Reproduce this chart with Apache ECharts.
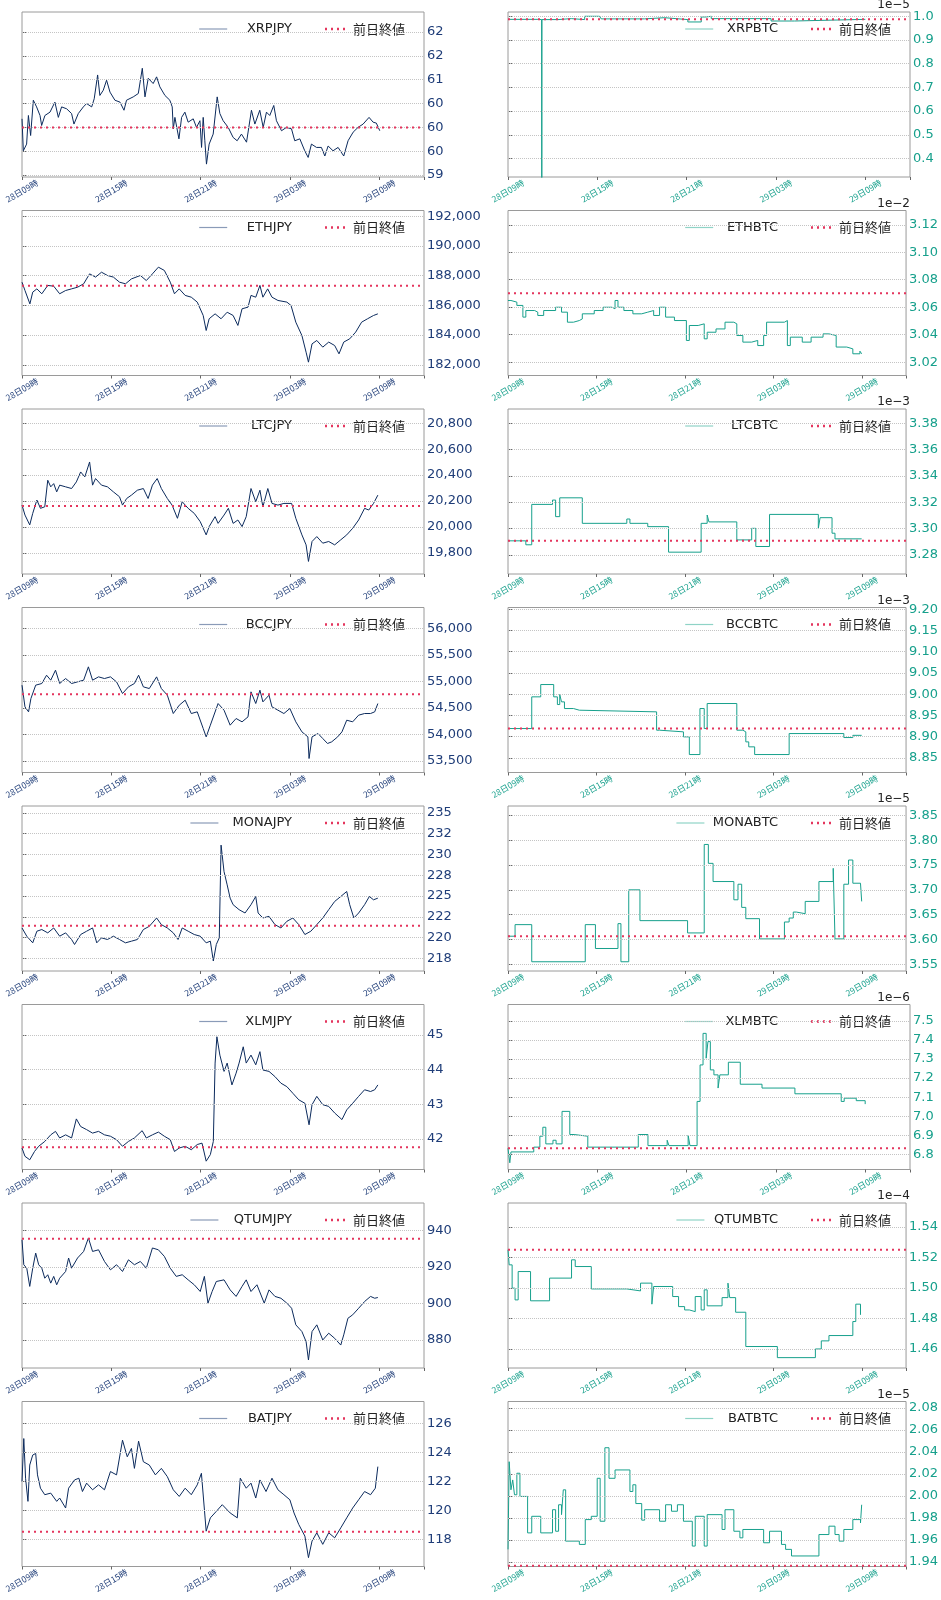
<!DOCTYPE html>
<html><head><meta charset="utf-8">
<script src="https://cdn.jsdelivr.net/npm/echarts@6/dist/echarts.min.js"></script>
<style>html,body{margin:0;padding:0;background:#fff}#c{width:941px;height:1600px}</style>
</head><body><div id="c"></div>
<script>
const timeLabels = ['28日09時','28日15時','28日21時','29日03時','29日09時'];

const XRPJPY = [[0,60.18],[0.09,59.51],[0.31,59.65],[0.43,60.25],[0.58,59.83],[0.76,60.57],[0.98,60.43],[1.21,60.25],[1.32,60.04],[1.54,60.25],[1.88,60.32],[2.21,60.53],[2.44,60.21],[2.66,60.43],[3.0,60.39],[3.33,60.29],[3.49,60.07],[3.78,60.29],[4.12,60.43],[4.34,60.5],[4.68,60.43],[4.85,60.6],[5.08,61.1],[5.23,60.67],[5.46,60.78],[5.68,60.99],[5.91,60.74],[6.24,60.57],[6.58,60.53],[6.85,60.36],[7.02,60.57],[7.47,60.64],[7.81,60.71],[8.08,61.24],[8.26,60.64],[8.48,61.03],[8.81,60.92],[9.04,61.06],[9.26,60.85],[9.6,60.67],[9.93,60.57],[10.09,60.43],[10.16,59.97],[10.27,60.21],[10.54,59.76],[10.72,60.21],[10.94,60.32],[11.16,60.11],[11.5,60.18],[11.72,60.0],[11.95,60.14],[12.06,59.58],[12.17,60.21],[12.28,59.72],[12.39,59.23],[12.57,59.65],[12.84,59.86],[13.11,60.64],[13.29,60.29],[13.51,60.14],[13.85,60.0],[14.18,59.79],[14.45,59.72],[14.74,59.86],[15.08,59.69],[15.41,60.36],[15.64,60.07],[15.97,60.36],[16.2,60.0],[16.42,60.32],[16.64,60.25],[16.91,60.46],[17.09,60.14],[17.43,59.93],[17.76,60.0],[18.1,59.97],[18.32,59.72],[18.66,59.76],[18.99,59.51],[19.22,59.37],[19.44,59.65],[19.78,59.58],[20.11,59.58],[20.34,59.4],[20.56,59.61],[20.89,59.51],[21.23,59.58],[21.61,59.4],[21.9,59.72],[22.24,59.9],[22.57,60.0],[22.91,60.07],[23.31,60.21],[23.58,60.11],[23.8,60.09],[24.03,59.93]];
const XRPBTC = [[0,0.987],[2.01,0.986],[2.26,0.986],[2.27,0.25],[2.28,0.986],[3.36,0.99],[4.25,0.986],[5.15,1.0],[6.15,1.0],[6.26,0.989],[9.17,0.994],[10.51,0.986],[12.08,0.976],[12.98,0.997],[13.31,1.0],[13.65,0.99],[17.67,0.98],[19.02,0.98],[19.24,0.987],[24.0,0.987]];
const ETHJPY = [[0,187560],[0.2,187000],[0.53,186100],[0.72,186890],[1.0,187110],[1.33,186780],[1.73,187340],[2.13,187290],[2.53,186780],[2.93,187000],[3.33,187110],[3.73,187220],[4.14,187450],[4.54,188120],[4.94,187900],[5.34,188230],[5.74,188010],[6.14,187900],[6.55,187560],[6.95,187450],[7.35,187780],[7.95,188010],[8.35,187670],[8.76,188120],[9.16,188570],[9.56,188350],[9.96,187560],[10.24,186780],[10.56,187110],[10.96,186670],[11.37,186550],[11.77,186220],[12.17,185320],[12.37,184310],[12.57,185100],[12.97,185430],[13.37,185100],[13.78,185540],[14.18,185320],[14.5,184650],[14.78,185770],[15.18,185880],[15.38,186670],[15.7,186550],[15.98,187340],[16.18,186550],[16.5,187110],[16.79,186550],[17.19,186330],[17.79,186220],[18.07,185990],[18.39,184870],[18.8,183970],[19.08,182850],[19.24,182180],[19.48,183410],[19.8,183640],[20.2,183190],[20.6,183530],[21.0,183300],[21.29,182740],[21.61,183530],[22.01,183750],[22.41,184200],[22.81,184870],[23.21,185100],[23.61,185320],[23.9,185430]];
const ETHBTC = [[0,3.0649],[0.2,3.0637],[0.6,3.0613],[1.01,3.0528],[1.21,3.0576],[1.81,3.0564],[2.02,3.054],[2.42,3.0576],[3.23,3.06],[3.63,3.0564],[4.03,3.0491],[4.44,3.0503],[4.84,3.0515],[5.04,3.0552],[5.85,3.0576],[6.45,3.06],[7.06,3.0588],[7.26,3.0649],[7.46,3.06],[7.86,3.0576],[8.47,3.0552],[9.07,3.0564],[9.48,3.0576],[9.88,3.054],[10.28,3.06],[10.69,3.0528],[11.29,3.0503],[12.1,3.0358],[12.3,3.0467],[12.9,3.0479],[13.31,3.037],[13.51,3.0418],[14.11,3.0442],[14.72,3.0491],[15.32,3.0479],[15.52,3.0394],[15.93,3.0346],[16.53,3.0358],[16.94,3.0321],[17.34,3.0394],[17.54,3.0491],[18.75,3.0503],[18.95,3.0321],[19.15,3.0382],[19.96,3.0346],[20.56,3.0382],[21.37,3.0406],[21.77,3.0394],[22.26,3.031],[22.98,3.0297],[23.39,3.0261],[23.87,3.028],[23.99,3.0261]];
const LTCJPY = [[0,20168],[0.2,20091],[0.52,20015],[0.72,20104],[1.0,20207],[1.24,20143],[1.53,20155],[1.73,20360],[1.93,20309],[2.13,20334],[2.33,20270],[2.53,20322],[2.93,20309],[3.33,20296],[3.65,20347],[3.94,20424],[4.22,20386],[4.54,20501],[4.74,20322],[4.94,20373],[5.34,20322],[5.74,20309],[6.14,20270],[6.55,20232],[6.75,20168],[7.03,20219],[7.35,20245],[7.75,20283],[8.15,20296],[8.47,20219],[8.76,20322],[9.08,20373],[9.36,20296],[9.76,20219],[10.08,20168],[10.44,20066],[10.76,20194],[11.16,20143],[11.57,20104],[11.97,20040],[12.37,19938],[12.57,20002],[12.97,20079],[13.17,20027],[13.57,20091],[13.86,20143],[14.18,20027],[14.5,20053],[14.78,20002],[15.06,20079],[15.38,20296],[15.7,20194],[15.98,20283],[16.18,20155],[16.51,20296],[16.79,20181],[17.19,20168],[17.59,20181],[18.11,20181],[18.39,20066],[18.8,19938],[19.08,19861],[19.24,19733],[19.48,19887],[19.8,19925],[20.2,19874],[20.6,19887],[21.0,19861],[21.41,19900],[21.81,19938],[22.21,19989],[22.61,20053],[23.01,20143],[23.29,20130],[23.61,20181],[23.9,20245]];
const LTCBTC = [[0,3.2906],[1.21,3.2876],[1.61,3.3183],[3.02,3.3216],[3.23,3.309],[3.51,3.3233],[5.04,3.3039],[8.06,3.3072],[8.27,3.3039],[9.48,3.3014],[10.89,3.282],[13.1,3.3039],[13.51,3.3102],[13.63,3.305],[15.52,3.2913],[16.53,3.3001],[16.81,3.2863],[17.74,3.3107],[21.05,3.3001],[21.17,3.3082],[21.98,3.2964],[22.18,3.2921],[23.99,3.2921]];
const BCCJPY = [[0,54930],[0.2,54520],[0.44,54426],[0.6,54678],[0.92,54930],[1.33,54961],[1.65,55118],[1.93,55024],[2.25,55213],[2.53,54961],[2.93,55055],[3.33,54961],[3.73,54992],[4.14,55024],[4.46,55276],[4.74,55024],[5.14,55087],[5.54,55055],[5.94,55087],[6.35,54992],[6.75,54772],[7.15,54898],[7.55,54961],[7.83,55118],[8.15,54898],[8.55,54866],[9.04,55087],[9.36,54866],[9.76,54741],[10.16,54394],[10.56,54551],[10.96,54646],[11.37,54394],[11.77,54426],[12.17,54111],[12.37,53953],[12.65,54174],[13.17,54583],[13.57,54457],[13.98,54174],[14.38,54300],[14.78,54237],[15.18,54331],[15.38,54804],[15.7,54583],[15.98,54835],[16.18,54614],[16.59,54741],[16.79,54520],[17.19,54457],[17.59,54394],[17.99,54489],[18.39,54237],[18.8,54048],[19.2,53953],[19.28,53544],[19.48,53953],[19.88,54016],[20.2,53922],[20.52,53828],[20.8,53859],[21.2,53953],[21.49,54048],[21.81,54268],[22.21,54237],[22.61,54363],[23.01,54394],[23.41,54394],[23.69,54426],[23.9,54583]];
const BCCBTC = [[0,8.919],[1.61,8.9936],[2.22,9.0226],[3.1,8.9936],[3.35,8.9755],[3.51,8.9991],[3.63,8.9818],[3.83,8.9661],[4.44,8.9622],[4.84,8.9583],[10.08,8.9151],[10.28,8.9112],[11.9,8.8994],[12.3,8.8578],[13.02,8.9661],[13.31,8.919],[13.51,8.9779],[15.52,8.9151],[15.93,8.9112],[16.13,8.8876],[16.33,8.8759],[16.73,8.8578],[19.07,8.9072],[22.78,8.8978],[23.39,8.903],[23.99,8.903]];
const MONAJPY = [[0,221.16],[0.32,220.17],[0.72,219.37],[1.0,220.77],[1.33,220.97],[1.73,220.57],[2.13,221.16],[2.53,220.17],[2.93,220.57],[3.33,219.77],[3.53,219.17],[3.94,220.37],[4.34,220.77],[4.74,221.16],[5.02,219.37],[5.34,219.97],[5.74,219.77],[6.14,220.17],[6.55,219.77],[6.95,219.37],[7.35,219.57],[7.75,219.77],[8.15,220.97],[8.55,221.36],[9.04,222.36],[9.36,221.56],[9.76,221.16],[10.16,220.57],[10.48,219.77],[10.76,221.16],[11.16,220.77],[11.57,220.37],[11.97,220.17],[12.37,219.37],[12.65,219.57],[12.85,217.18],[13.05,219.17],[13.25,219.97],[13.37,231.13],[13.57,227.94],[13.78,226.35],[13.98,224.75],[14.18,223.96],[14.58,223.36],[14.98,222.96],[15.38,223.96],[15.7,224.95],[15.86,222.96],[16.18,222.36],[16.59,222.56],[16.99,221.56],[17.39,221.16],[17.79,221.96],[18.19,222.36],[18.59,221.56],[19.0,220.37],[19.4,220.77],[19.8,221.56],[20.2,222.36],[20.6,223.36],[21.0,224.35],[21.41,224.95],[21.81,225.55],[22.01,223.96],[22.29,222.36],[22.61,222.96],[23.01,223.96],[23.33,224.95],[23.61,224.55],[23.9,224.75]];
const MONABTC = [[0,3.6067],[0.48,3.63],[1.61,3.5553],[5.24,3.63],[5.93,3.582],[7.46,3.632],[7.66,3.5553],[8.19,3.70],[8.95,3.638],[12.18,3.6133],[13.31,3.7913],[13.59,3.7533],[13.91,3.7167],[15.32,3.68],[15.6,3.7113],[15.85,3.6647],[16.13,3.642],[17.06,3.6013],[18.75,3.6353],[19.07,3.6433],[19.35,3.6553],[19.56,3.652],[20.16,3.6767],[21.09,3.7167],[22.06,3.7433],[22.18,3.6013],[22.78,3.7113],[23.1,3.76],[23.39,3.7133],[23.91,3.7133],[23.99,3.6767]];
const XLMJPY = [[0,41.74],[0.2,41.5],[0.52,41.4],[0.84,41.64],[1.12,41.79],[1.53,41.93],[1.93,42.12],[2.25,42.22],[2.53,42.03],[2.93,42.12],[3.33,42.03],[3.65,42.58],[3.94,42.36],[4.34,42.27],[4.74,42.17],[5.14,42.22],[5.54,42.12],[5.94,42.08],[6.35,41.98],[6.75,41.79],[7.15,41.93],[7.55,42.03],[8.07,42.24],[8.35,42.03],[8.76,42.12],[9.16,42.2],[9.56,42.08],[9.96,41.98],[10.24,41.64],[10.56,41.74],[10.96,41.79],[11.37,41.69],[11.77,41.84],[12.09,41.88],[12.37,41.36],[12.65,41.55],[12.85,41.93],[12.97,44.19],[13.09,44.95],[13.29,44.42],[13.57,43.95],[13.78,44.19],[14.1,43.56],[14.38,43.9],[14.58,44.19],[14.86,44.66],[15.06,44.19],[15.38,44.42],[15.7,44.14],[15.98,44.52],[16.18,43.99],[16.59,43.95],[16.99,43.8],[17.39,43.61],[17.79,43.51],[18.19,43.32],[18.59,43.13],[19.0,43.03],[19.28,42.41],[19.48,42.99],[19.8,43.23],[20.2,42.99],[20.6,42.94],[21.0,42.75],[21.49,42.56],[21.81,42.84],[22.21,43.03],[22.61,43.23],[23.01,43.42],[23.41,43.37],[23.69,43.42],[23.9,43.56]];
const XLMBTC = [[0,6.833],[0.12,6.757],[0.2,6.814],[1.73,6.839],[2.14,6.896],[2.34,6.943],[2.54,6.856],[3.02,6.875],[3.23,6.856],[3.63,7.026],[4.15,6.905],[4.44,6.896],[5.36,6.839],[8.75,6.905],[9.4,6.847],[10.69,6.875],[10.81,6.847],[12.1,6.901],[12.22,6.847],[12.7,7.078],[12.9,7.269],[13.1,7.434],[13.31,7.304],[13.43,7.391],[13.59,7.243],[13.83,7.217],[14.11,7.148],[14.23,7.217],[14.8,7.283],[15.6,7.168],[17.06,7.148],[19.27,7.118],[22.38,7.078],[22.58,7.095],[23.39,7.082],[23.99,7.064]];
const QTUMJPY = [[0,935.0],[0.12,921.3],[0.32,919.4],[0.52,909.4],[0.72,919.4],[0.92,927.7],[1.12,921.3],[1.33,919.4],[1.53,913.9],[1.73,915.8],[1.93,911.2],[2.13,914.9],[2.33,910.3],[2.53,913.9],[2.93,917.6],[3.13,925.0],[3.33,919.4],[3.73,925.0],[4.14,928.6],[4.46,936.0],[4.74,928.6],[5.14,929.5],[5.54,923.1],[5.94,918.5],[6.35,921.3],[6.75,917.6],[7.15,924.0],[7.55,921.3],[7.95,923.1],[8.35,919.4],[8.76,930.5],[9.16,929.5],[9.56,925.9],[9.96,919.4],[10.36,914.9],[10.76,915.8],[11.16,913.0],[11.57,910.3],[11.97,906.6],[12.25,914.9],[12.49,900.2],[12.77,906.6],[13.05,912.1],[13.57,913.0],[13.98,907.5],[14.38,903.9],[14.78,909.4],[15.06,913.0],[15.38,906.6],[15.78,910.3],[16.27,900.2],[16.59,907.5],[16.99,903.9],[17.39,902.9],[17.79,900.2],[18.11,897.4],[18.39,888.3],[18.8,884.6],[19.08,879.1],[19.24,869.0],[19.48,884.6],[19.8,888.3],[20.2,880.0],[20.6,883.7],[21.0,880.9],[21.41,877.2],[21.61,882.8],[21.89,891.9],[22.21,893.8],[22.61,897.4],[23.01,901.1],[23.41,903.9],[23.69,902.9],[23.9,903.3]];
const QTUMBTC = [[0,1.5251],[0.08,1.5152],[0.28,1.4999],[0.48,1.4922],[0.69,1.5108],[1.53,1.4916],[2.82,1.5065],[4.31,1.5185],[4.56,1.5141],[5.65,1.4994],[8.06,1.4981],[8.99,1.5032],[9.76,1.4894],[9.88,1.501],[11.17,1.4944],[11.57,1.4878],[11.98,1.4856],[12.3,1.4845],[12.7,1.4944],[13.1,1.4856],[13.31,1.4988],[13.51,1.4883],[14.52,1.4937],[14.92,1.5032],[15.04,1.4937],[15.44,1.4841],[16.13,1.4616],[18.27,1.4543],[20.85,1.46],[21.25,1.4653],[21.77,1.4688],[23.39,1.478],[23.59,1.4894],[23.91,1.4824]];
const BATJPY = [[0,122.0],[0.12,124.97],[0.24,122.23],[0.4,120.63],[0.52,123.14],[0.72,123.83],[0.92,123.94],[1.04,122.46],[1.24,121.54],[1.53,121.09],[1.93,121.2],[2.33,120.63],[2.53,120.86],[2.93,120.17],[3.13,121.54],[3.53,122.11],[3.82,122.23],[4.06,121.31],[4.34,121.89],[4.74,121.43],[5.14,121.77],[5.54,121.43],[5.94,122.69],[6.35,122.46],[6.75,124.86],[7.07,123.71],[7.35,124.29],[7.55,122.91],[7.83,124.79],[8.15,123.37],[8.55,123.14],[8.96,122.46],[9.36,122.91],[9.76,122.34],[10.16,121.43],[10.56,120.97],[10.96,121.54],[11.37,121.09],[11.77,121.77],[12.05,122.57],[12.37,118.57],[12.65,119.49],[13.05,119.94],[13.45,120.4],[13.98,119.83],[14.46,119.49],[14.66,122.23],[15.06,121.54],[15.38,121.89],[15.7,120.86],[15.98,122.11],[16.39,121.31],[16.79,122.23],[17.19,121.43],[17.59,121.09],[17.99,120.74],[18.27,119.83],[18.59,119.03],[19.0,118.23],[19.24,116.74],[19.48,117.89],[19.8,118.46],[20.2,117.66],[20.6,118.46],[21.0,118.11],[21.41,118.8],[21.81,119.49],[22.21,120.17],[22.61,120.74],[23.01,121.31],[23.41,121.09],[23.73,121.54],[23.9,123.03]];
const BATBTC = [[0,1.9514],[0.08,2.0312],[0.2,2.0056],[0.32,2.0146],[0.44,2.0011],[0.6,2.0207],[0.81,1.9996],[1.33,1.9664],[1.61,1.9815],[2.22,1.9664],[3.02,1.9875],[3.23,1.9679],[3.43,1.992],[3.63,1.983],[3.75,2.0056],[3.91,1.9589],[4.84,1.9559],[5.24,1.9785],[5.65,1.9815],[6.05,2.0161],[6.25,1.977],[6.57,2.0439],[6.85,2.0161],[7.26,2.0237],[8.27,2.0041],[8.47,2.0102],[8.67,1.9931],[9.07,1.978],[9.27,1.9875],[10.28,1.977],[10.69,1.992],[11.09,1.9861],[11.49,1.992],[11.9,1.977],[12.5,1.9544],[12.7,1.9815],[13.31,1.9544],[13.51,1.983],[14.52,1.9695],[14.72,1.9875],[15.32,1.9679],[15.73,1.9619],[15.93,1.9695],[17.34,1.9574],[17.74,1.9679],[18.55,1.9559],[18.83,1.9514],[19.23,1.9454],[21.09,1.9649],[21.77,1.9725],[22.18,1.9649],[22.46,1.9589],[22.78,1.9695],[23.39,1.9785],[23.91,1.9755],[23.99,1.992]];

const ticksXRPJPY=[59,59.5,60,60.5,61,61.5,62], ticksXRPBTC=[0.4,0.5,0.6,0.7,0.8,0.9,1.0];
const ticksETHJPY=[182000,184000,186000,188000,190000,192000], ticksETHBTC=[3.02,3.04,3.06,3.08,3.10,3.12];
const ticksLTCJPY=[19800,20000,20200,20400,20600,20800], ticksLTCBTC=[3.28,3.30,3.32,3.34,3.36,3.38];
const ticksBCCJPY=[53500,54000,54500,55000,55500,56000], ticksBCCBTC=[8.85,8.90,8.95,9.00,9.05,9.10,9.15,9.20];
const ticksMONAJPY=[217.5,220,222.5,225,227.5,230,232.5,235], ticksMONABTC=[3.55,3.60,3.65,3.70,3.75,3.80,3.85];
const ticksXLMJPY=[42,43,44,45], ticksXLMBTC=[6.8,6.9,7.0,7.1,7.2,7.3,7.4,7.5];
const ticksQTUMJPY=[880,900,920,940], ticksQTUMBTC=[1.46,1.48,1.50,1.52,1.54];
const ticksBATJPY=[118,120,122,124,126], ticksBATBTC=[1.94,1.96,1.98,2.00,2.02,2.04,2.06,2.08];

const prevClose = {XRPJPY:60.0,XRPBTC:0.987,ETHJPY:187314,ETHBTC:3.0702,LTCJPY:20161,LTCBTC:3.2906,BCCJPY:54759,BCCBTC:8.919,MONAJPY:221.44,MONABTC:3.6067,XLMJPY:41.76,XLMBTC:6.833,QTUMJPY:935.6,QTUMBTC:1.5251,BATJPY:118.53,BATBTC:1.9364};

const panels = [
 {n:'XRPJPY',d:XRPJPY,t:ticksXRPJPY,min:58.96,max:62.42,fmt:'he'},
 {n:'XRPBTC',d:XRPBTC,t:ticksXRPBTC,min:0.322,max:1.018,fmt:1,e:'1e\u22125'},
 {n:'ETHJPY',d:ETHJPY,t:ticksETHJPY,min:181283,max:192381,fmt:'k'},
 {n:'ETHBTC',d:ETHBTC,t:ticksETHBTC,min:3.0103,max:3.1304,fmt:2,e:'1e\u22122'},
 {n:'LTCJPY',d:LTCJPY,t:ticksLTCJPY,min:19636,max:20910,fmt:'k'},
 {n:'LTCBTC',d:LTCBTC,t:ticksLTCBTC,min:3.2654,max:3.3908,fmt:2,e:'1e\u22123'},
 {n:'BCCJPY',d:BCCJPY,t:ticksBCCJPY,min:53280,max:56397,fmt:'k'},
 {n:'BCCBTC',d:BCCBTC,t:ticksBCCBTC,min:8.8155,max:9.204,fmt:2,e:'1e\u22123'},
 {n:'MONAJPY',d:MONAJPY,t:ticksMONAJPY,min:215.98,max:235.84,fmt:'he'},
 {n:'MONABTC',d:MONABTC,t:ticksMONABTC,min:3.5367,max:3.8687,fmt:2,e:'1e\u22125'},
 {n:'XLMJPY',d:XLMJPY,t:ticksXLMJPY,min:41.12,max:45.88,fmt:'he'},
 {n:'XLMBTC',d:XLMBTC,t:ticksXLMBTC,min:6.722,max:7.585,fmt:1,e:'1e\u22126'},
 {n:'QTUMJPY',d:QTUMJPY,t:ticksQTUMJPY,min:864.6,max:955.2,fmt:'he'},
 {n:'QTUMBTC',d:QTUMBTC,t:ticksQTUMBTC,min:1.4475,max:1.5558,fmt:2,e:'1e\u22124'},
 {n:'BATJPY',d:BATJPY,t:ticksBATJPY,min:116.13,max:127.53,fmt:'he'},
 {n:'BATBTC',d:BATBTC,t:ticksBATBTC,min:1.9358,max:2.086,fmt:2,e:'1e\u22125'}
];

function halfEven(v){const f=Math.floor(v+1e-9);const d=v-f;if(Math.abs(d-0.5)<1e-9)return f%2===0?f:f+1;return Math.round(v);}
function fmtFn(p){return function(v){
  if(p.fmt==='he') return String(halfEven(v));
  if(p.fmt==='k') return Math.round(v).toLocaleString('en-US');
  return v.toFixed(p.fmt);
};}

const NAVY='#0b2a5c', NAVYL='#1f3d78', TEAL='#17a08c', RED='#e4355d';
const grids=[],xAxes=[],yAxes=[],series=[],graphics=[];
panels.forEach((p,i)=>{
  const col=i%2, row=Math.floor(i/2);
  const right=col===1;
  const left=right?508:22, top=12+row*198.5, pr=left+402;
  const lineC=right?TEAL:NAVY, labC=right?TEAL:NAVYL;
  grids.push({left:left,top:top,width:402,height:165,show:true,borderColor:'#9a9a9a',borderWidth:1,backgroundColor:'transparent'});
  xAxes.push({type:'value',gridIndex:i,min:0,max:27,interval:6,
    axisLine:{show:false},splitLine:{show:false},
    axisTick:{show:true,length:3,lineStyle:{color:'#666'}},
    axisLabel:{rotate:30,fontSize:8.5,color:labC,margin:14,align:'center',verticalAlign:'middle',fontFamily:'Noto Sans CJK JP',
      formatter:v=>{const k=Math.round(v/6);return (v%6===0&&k<timeLabels.length)?timeLabels[k]:'';}}});
  yAxes.push({type:'value',gridIndex:i,position:'right',min:p.min,max:p.max,
    axisLine:{show:false},splitLine:{show:false},
    axisTick:{show:true,length:4,customValues:p.t,lineStyle:{color:'#666'}},
    axisLabel:{customValues:p.t,color:labC,fontSize:13,margin:3,fontFamily:'DejaVu Sans',formatter:fmtFn(p)}});
  series.push({name:p.n,type:'line',xAxisIndex:i,yAxisIndex:i,data:p.d,showSymbol:false,symbol:'none',
    step:right?'end':false,clip:true,
    lineStyle:{color:lineC,width:1},itemStyle:{color:lineC},
    markLine:{silent:true,symbol:'none',label:{show:false},animation:false,
      lineStyle:{color:'#c4c4c4',type:'dotted',width:1},data:p.t.map(t=>({yAxis:t}))}});
  series.push({name:'前日終値',type:'line',xAxisIndex:i,yAxisIndex:i,showSymbol:false,symbol:'none',
    data:[[0,prevClose[p.n]],[27,prevClose[p.n]]],
    lineStyle:{color:RED,width:2,type:[2,4]},itemStyle:{color:RED},z:5});
  const ly=top+17, xe=pr-19;
  graphics.push({type:'text',x:xe,y:ly,style:{text:'前日終値',fill:'#222',font:'13px "Noto Sans CJK JP"',align:'right',verticalAlign:'middle'}});
  graphics.push({type:'line',shape:{x1:xe-80,y1:ly,x2:xe-56,y2:ly},style:{stroke:RED,lineWidth:2.5,lineDash:[2,4]}});
  graphics.push({type:'text',x:xe-113,y:ly,style:{text:p.n,fill:'#222',font:'13px "DejaVu Sans"',align:'right',verticalAlign:'middle'}});
  const nw=p.n.length*8.8;
  graphics.push({type:'line',shape:{x1:xe-113-nw-40,y1:ly,x2:xe-113-nw-12,y2:ly},style:{stroke:right?'#8fd3c6':'#8a9bb8',lineWidth:1.2}});
  if(p.e) graphics.push({type:'text',x:pr,y:top-1,style:{text:p.e,fill:'#222',font:'12px "DejaVu Sans"',align:'right',verticalAlign:'bottom'}});
});
const chart=echarts.init(document.getElementById('c'),null,{renderer:'canvas'});
chart.setOption({animation:false,grid:grids,xAxis:xAxes,yAxis:yAxes,series:series,graphic:graphics});
</script></body></html>
